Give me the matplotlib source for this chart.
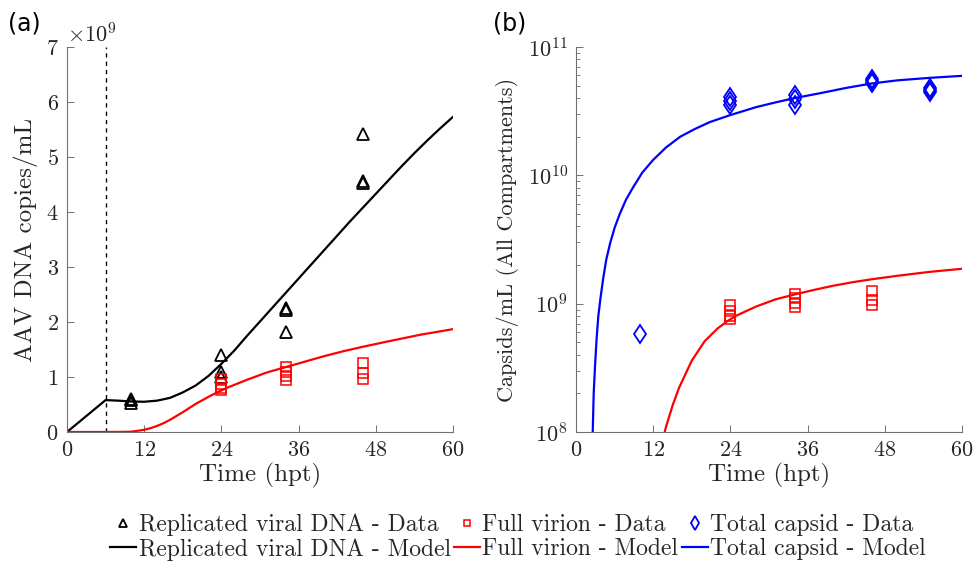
import matplotlib
matplotlib.use("Agg")
import matplotlib.pyplot as plt
import numpy as np

plt.rcParams['font.family'] = 'serif'
plt.rcParams['font.serif'] = ['cmr10']
plt.rcParams['mathtext.fontset'] = 'cm'
plt.rcParams['axes.formatter.use_mathtext'] = True
plt.rcParams['axes.unicode_minus'] = False

# measured data (hours post transfection)
dna_t = [10, 10, 10, 24, 24, 24, 34, 34, 34, 46, 46, 46]
dna_v = [0.60e9, 0.58e9, 0.52e9, 1.40e9, 1.10e9, 1.00e9,
         2.25e9, 2.22e9, 1.82e9, 5.42e9, 4.57e9, 4.53e9]

full_t = [24, 24, 24, 24, 34, 34, 34, 34, 46, 46, 46]
full_v = [0.97e9, 0.88e9, 0.80e9, 0.76e9, 1.18e9, 1.10e9, 1.02e9, 0.95e9,
          1.25e9, 1.07e9, 0.97e9]

cap_t = [10, 24, 24, 24, 34, 34, 34, 46, 46, 46, 55, 55, 55]
cap_v = [5.8e8, 4.05e10, 3.8e10, 3.55e10, 4.2e10, 3.9e10, 3.55e10,
         5.6e10, 5.4e10, 5.2e10, 4.8e10, 4.65e10, 4.5e10]

# model curves
dna_mt = [0, 6, 8, 10, 12, 14, 16, 18, 20, 22, 24, 26, 28, 30, 32, 34, 36,
          38, 40, 42, 44, 46, 48, 50, 52, 54, 56, 58, 60]
dna_mv = [0, 0.58e9, 0.57e9, 0.555e9, 0.55e9, 0.57e9, 0.62e9, 0.72e9,
          0.845e9, 1.02e9, 1.24e9, 1.48e9, 1.75e9, 2.01e9, 2.27e9, 2.53e9,
          2.79e9, 3.05e9, 3.31e9, 3.57e9, 3.83e9, 4.08e9, 4.33e9, 4.58e9,
          4.83e9, 5.07e9, 5.3e9, 5.52e9, 5.73e9]

full_mt = [0, 6, 8, 10, 12, 13, 14, 15, 16, 18, 20, 22, 23.5, 25, 28, 31,
           34, 37, 40, 43, 46, 50, 55, 60]
full_mv = [1e5, 1e5, 1e6, 5e6, 4e7, 7e7, 1.1e8, 1.6e8, 2.2e8, 3.6e8, 5.1e8,
           6.4e8, 7.3e8, 8.1e8, 9.5e8, 1.08e9, 1.18e9, 1.28e9, 1.38e9,
           1.47e9, 1.55e9, 1.65e9, 1.77e9, 1.87e9]

cap_mt = [2.4, 2.6, 2.75, 2.95, 3.2, 3.47, 3.8, 4.25, 4.7, 5.3, 6.0, 6.8,
          7.8, 8.9, 10.3, 12, 14, 16.2, 18.5, 20.8, 24, 28, 31, 34, 38, 42,
          46, 50, 55, 60]
cap_mv = [5e7, 1e8, 2e8, 3.2e8, 5.3e8, 8e8, 1.1e9, 1.6e9, 2.2e9, 2.95e9,
          3.9e9, 5e9, 6.5e9, 8.1e9, 1.05e10, 1.32e10, 1.65e10, 2.0e10,
          2.3e10, 2.6e10, 2.95e10, 3.4e10, 3.7e10, 4.0e10, 4.37e10, 4.8e10,
          5.2e10, 5.5e10, 5.75e10, 5.96e10]

dose_time = 6
xticks = [0, 12, 24, 36, 48, 60]

fig = plt.figure(figsize=(9.75, 5.64), dpi=100)
ax1 = fig.add_axes([67/975, 1-432/564, 386/975, 385/564])
ax2 = fig.add_axes([576/975, 1-432/564, 386/975, 385/564])

grey = '#262626'
for ax in (ax1, ax2):
  ax.spines['top'].set_visible(False)
  ax.spines['right'].set_visible(False)
  for s in ('left', 'bottom'):
    ax.spines[s].set_color('#707070')
    ax.spines[s].set_linewidth(0.8)
  ax.tick_params(direction='in', length=5, width=0.7, color='#707070',
                 labelsize=16, labelcolor=grey, pad=6)
  ax.tick_params(which='minor', direction='in', length=3, width=0.6, color='#707070')
  ax.set_xlim(0, 60)
  ax.set_xticks(xticks)
  ax.set_xlabel('Time (hpt)', fontsize=18, color=grey, labelpad=2)

# (a) linear
ax1.axvline(dose_time, color='k', lw=1, ls=(0, (3, 3)))
ax1.plot(dna_mt, dna_mv, color='k', lw=1.6)
ax1.plot(full_mt, full_mv, color='#ff0000', lw=1.6)
ax1.plot(dna_t, dna_v, ls='none', marker='^', ms=8, mfc='none', mec='k', mew=1.3)
ax1.plot(full_t, full_v, ls='none', marker='s', ms=6.5, mfc='none', mec='#ff0000', mew=1.1)
ax1.set_ylim(0, 7e9)
ax1.set_yticks(np.arange(0, 8) * 1e9)
ax1.yaxis.get_offset_text().set_fontsize(16)
ax1.yaxis.get_offset_text().set_color(grey)
ax1.set_ylabel('AAV DNA copies/mL', fontsize=18, color=grey, labelpad=6)

# (b) log
ax2.set_yscale('log')
h_cap_m, = ax2.plot(cap_mt, cap_mv, color='#0000ff', lw=1.6)
h_full_m, = ax2.plot(full_mt, full_mv, color='#ff0000', lw=1.6)
ax2.plot(cap_t, cap_v, ls='none', marker='d', ms=9.5, mfc='none', mec='#0000ff', mew=1.3)
ax2.plot(full_t, full_v, ls='none', marker='s', ms=6.5, mfc='none', mec='#ff0000', mew=1.1)
ax2.set_ylim(1e8, 1e11)
ax2.set_ylabel('Capsids/mL (All Compartments)', fontsize=16, color=grey, labelpad=6)

fig.text(8/975, 1-23/564, '(a)', fontsize=17, family='DejaVu Sans', va='center')
fig.text(493/975, 1-23/564, '(b)', fontsize=17, family='DejaVu Sans', va='center')

# legend
h_dna_d = plt.Line2D([], [], ls='none', marker='^', ms=6, mfc='none', mec='k', mew=1.3)
h_dna_m = plt.Line2D([], [], color='k', lw=1.6)
h_full_d = plt.Line2D([], [], ls='none', marker='s', ms=5, mfc='none', mec='#ff0000', mew=1.1)
h_cap_d = plt.Line2D([], [], ls='none', marker='d', ms=7, mfc='none', mec='#0000ff', mew=1.3)
handles = [h_dna_d, h_dna_m, h_full_d, h_full_m, h_cap_d, h_cap_m]
labels = ['Replicated viral DNA - Data', 'Replicated viral DNA - Model',
          'Full virion - Data', 'Full virion - Model',
          'Total capsid - Data', 'Total capsid - Model']
fig.legend(handles, labels, loc='center', bbox_to_anchor=(518/975, 1-537/564),
           ncol=3, frameon=False, fontsize=17, handlelength=1.1,
           handletextpad=0.1, columnspacing=0.15, labelspacing=0.1,
           labelcolor=grey)

fig.savefig('out.png', dpi=100)
